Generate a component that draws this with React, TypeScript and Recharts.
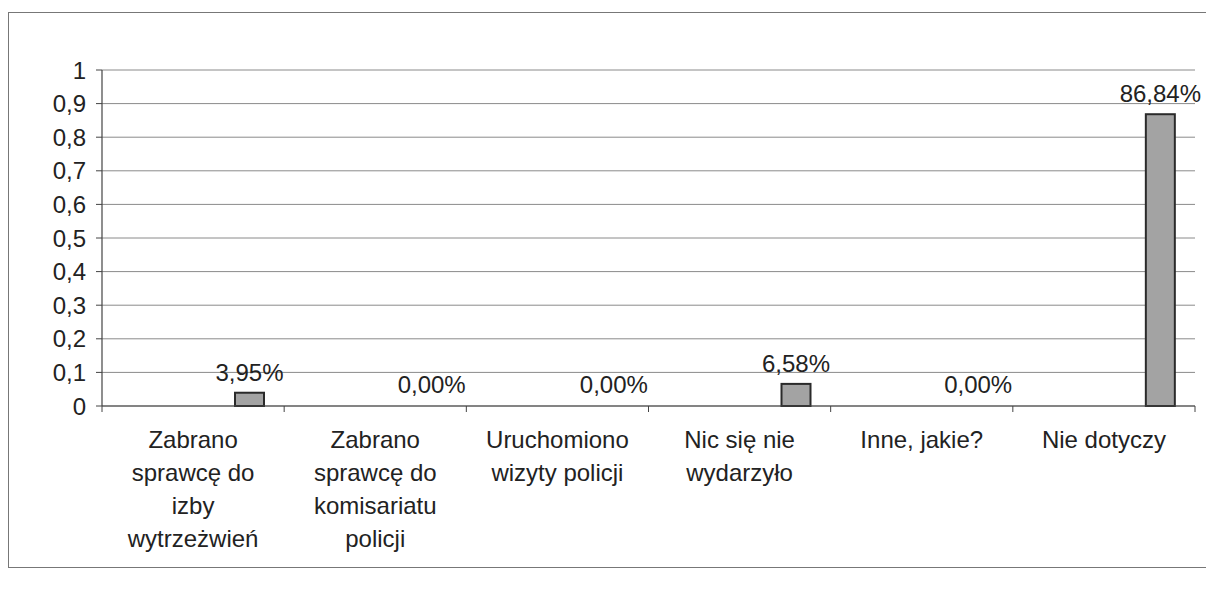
import React from 'react';
import { BarChart, Bar, XAxis, YAxis, CartesianGrid, LabelList } from 'recharts';

const categories: string[][] = [
  ['Zabrano', 'sprawcę do', 'izby', 'wytrzeżwień'],
  ['Zabrano', 'sprawcę do', 'komisariatu', 'policji'],
  ['Uruchomiono', 'wizyty policji'],
  ['Nic się nie', 'wydarzyło'],
  ['Inne, jakie?'],
  ['Nie dotyczy'],
];
const values: number[] = [0.0395, 0, 0, 0.0658, 0, 0.8684];
const yTicks: number[] = [0, 0.1, 0.2, 0.3, 0.4, 0.5, 0.6, 0.7, 0.8, 0.9, 1];

const data = categories.map((c, i) => ({ name: c.join(' '), idx: i, blank: null, value: values[i] }));

const FONT = '"Liberation Sans", Arial, sans-serif';
const TEXT = '#222';

const fmtPct = (v: any) => (Number(v) * 100).toFixed(2).replace('.', ',') + '%';
const fmtTick = (v: number) => String(Math.round(v * 10) / 10).replace('.', ',');

function CatTick(props: any) {
  const { x, y, payload, index, visibleTicksCount } = props;
  const off = payload && typeof payload.offset === 'number' ? payload.offset : 0;
  const lines = categories[index] || [];
  const last = index === (visibleTicksCount ?? categories.length) - 1;
  return (
    <g>
      {off > 0 && <line x1={x - off} x2={x - off} y1={y} y2={y + 6} stroke="#444" strokeWidth={1} />}
      {off > 0 && last && <line x1={x + off} x2={x + off} y1={y} y2={y + 6} stroke="#444" strokeWidth={1} />}
      <text x={x} y={y + 42} textAnchor="middle" fontFamily={FONT} fontSize={24} fill={TEXT}>
        {lines.map((l, i) => (
          <tspan key={i} x={x} dy={i === 0 ? 0 : 33}>{l}</tspan>
        ))}
      </text>
    </g>
  );
}

function BarShape(props: any) {
  const { x, y, width, height, fill, stroke, strokeWidth } = props;
  if (!(height > 1.5)) return <g />;
  return <rect x={x} y={y} width={width} height={height} fill={fill} stroke={stroke} strokeWidth={strokeWidth} />;
}

export default function App() {
  return (
    <div
      style={{
        width: 1206,
        height: 556,
        marginTop: 4,
        borderTop: '1px solid #777',
        borderLeft: '1px solid #777',
        borderBottom: '1px solid #777',
        boxSizing: 'border-box',
        background: '#fff',
      }}
    >
      <BarChart
        width={1205}
        height={554}
        data={data}
        margin={{ top: 57, right: 19, bottom: 0, left: 0 }}
        barSize={29}
        barGap={84}
      >
        <CartesianGrid horizontal={true} vertical={false} stroke="#8a8a8a" strokeWidth={1} />
        <XAxis
          dataKey="name"
          height={161}
          tickLine={false}
          tickSize={0}
          tickMargin={0}
          axisLine={{ stroke: '#444', strokeWidth: 1.2 }}
          interval={0}
          tick={<CatTick />}
        />
        <YAxis
          width={93}
          domain={[0, 1]}
          ticks={yTicks}
          tickFormatter={fmtTick}
          tickSize={6}
          tickMargin={10}
          axisLine={{ stroke: '#444', strokeWidth: 1.2 }}
          tickLine={{ stroke: '#444' }}
          tick={{ fontFamily: FONT, fontSize: 24, fill: TEXT }}
          interval={0}
        />
        <YAxis
          yAxisId="r"
          orientation="right"
          width={0}
          domain={[0, 1]}
          tick={false}
          tickLine={false}
          axisLine={{ stroke: '#c8c8c8' }}
        />
        <Bar dataKey="blank" fill="none" isAnimationActive={false} />
        <Bar
          dataKey="value"
          fill="#a3a3a3"
          stroke="#2a2a2a"
          strokeWidth={2}
          minPointSize={1}
          shape={<BarShape />}
          isAnimationActive={false}
        >
          <LabelList
            dataKey="value"
            position="top"
            offset={12}
            formatter={fmtPct}
            style={{ fontFamily: FONT, fontSize: 24, fill: TEXT }}
          />
        </Bar>
      </BarChart>
    </div>
  );
}
